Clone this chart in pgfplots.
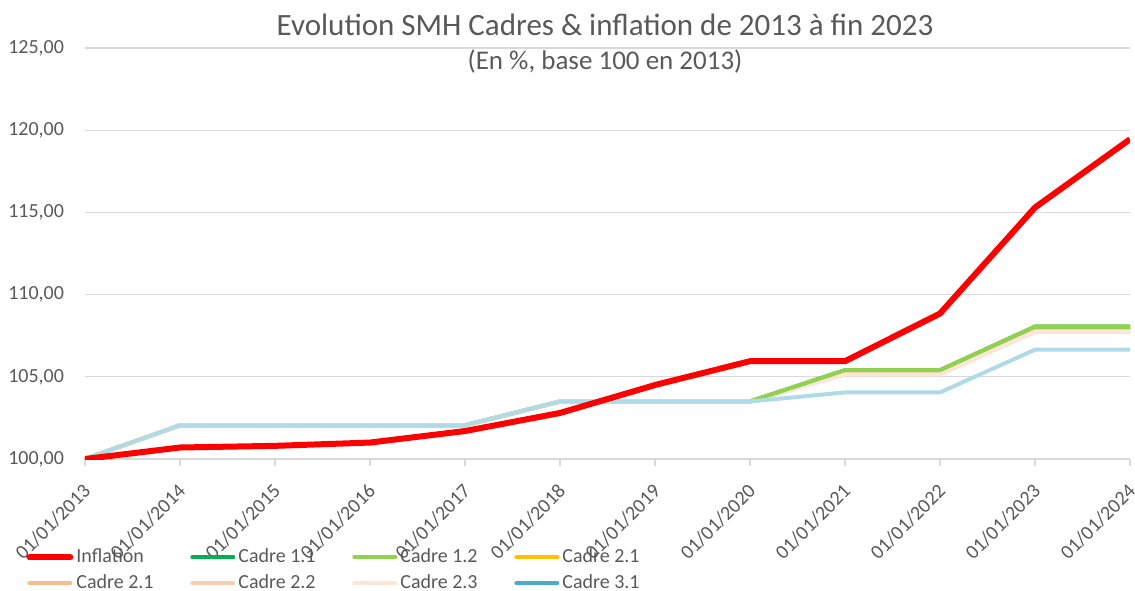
\documentclass[border=0pt]{standalone}
\usepackage{fontspec}
\setmainfont{Carlito}
\usepackage{pgfplots}
\pgfplotsset{compat=1.18}
\definecolor{txt}{RGB}{89,89,89}
\definecolor{gridc}{RGB}{217,217,217}
\definecolor{infl}{RGB}{255,0,0}
\definecolor{cA}{RGB}{0,176,80}
\definecolor{cB}{RGB}{146,208,80}
\definecolor{cC}{RGB}{255,192,0}
\definecolor{cD}{RGB}{248,190,140}
\definecolor{cE}{RGB}{248,206,176}
\definecolor{cF}{RGB}{252,230,216}
\definecolor{cG}{RGB}{75,172,198}
\definecolor{cGl}{RGB}{176,219,230}
\newcommand{\legtxt}[1]{\makebox[55pt][l]{#1}}
\begin{document}
\begin{tikzpicture}[x=1pt,y=1pt]
\path[use as bounding box] (0,0) rectangle (567.5,295);
\node[txt, font=\fontsize{15.5}{17}\selectfont] at (302.5,282.5) {Evolution SMH Cadres \& inflation de 2013 à fin 2023};
\node[txt, font=\fontsize{13.5}{15}\selectfont] at (302.5,264) {(En \%, base 100 en 2013)};
\begin{axis}[
  at={(42.5pt,65.5pt)}, anchor=south west,
  scale only axis, width=522.5pt, height=205.5pt,
  xmin=0, xmax=11, ymin=100, ymax=125,
  xtick={0,...,11},
  xticklabels={01/01/2013,01/01/2014,01/01/2015,01/01/2016,01/01/2017,01/01/2018,01/01/2019,01/01/2020,01/01/2021,01/01/2022,01/01/2023,01/01/2024},
  ytick={100,105,...,125},
  axis x line*=bottom, axis y line*=left,
  x axis line style={draw=gridc, line width=0.6pt},
  y axis line style={draw=none},
  ymajorgrids, grid style={draw=gridc, line width=0.6pt},
  tick align=outside, major tick length=3.5pt,
  xtick style={draw=gridc, line width=0.6pt},
  ytick style={draw=none},
  tick label style={txt},
  xticklabel style={font=\fontsize{10}{12}\selectfont, xshift=3.5pt, yshift=-8.5pt, rotate=45, anchor=east},
  yticklabel style={font=\fontsize{10}{12}\selectfont, anchor=east, xshift=-3.5pt},
  yticklabel={\pgfmathprintnumber[fixed, fixed zerofill, precision=2, use comma, 1000 sep={}, assume math mode=true]{\tick}},
  legend columns=4,
  legend cell align=left,
  legend style={at={(-0.0565,-0.208)}, anchor=north west, draw=none, fill=none,
    font=\fontsize{10}{12}\selectfont, text=txt, inner sep=0pt,
    row sep=0.5pt,
    /tikz/every odd column/.append style={column sep=-0.5pt}},
  legend image code/.code={\draw[#1] (0pt,0pt) -- (20.5pt,0pt);},
]
\addlegendimage{infl, line width=3pt, line cap=round}
\addlegendentry{\legtxt{Inflation}}
\addlegendimage{cA, line width=2pt, line cap=round}
\addlegendentry{\legtxt{Cadre 1.1}}
\addlegendimage{cB, line width=2pt, line cap=round}
\addlegendentry{\legtxt{Cadre 1.2}}
\addlegendimage{cC, line width=2pt, line cap=round}
\addlegendentry{\legtxt{Cadre 2.1}}
\addlegendimage{cD, line width=2pt, line cap=round}
\addlegendentry{\legtxt{Cadre 2.1}}
\addlegendimage{cE, line width=2pt, line cap=round}
\addlegendentry{\legtxt{Cadre 2.2}}
\addlegendimage{cF, line width=2pt, line cap=round}
\addlegendentry{\legtxt{Cadre 2.3}}
\addlegendimage{cG, line width=2pt, line cap=round}
\addlegendentry{\legtxt{Cadre 3.1}}
% Cadre 1.1
\addplot[forget plot, cA, line width=2pt] coordinates {(0,100) (1,102.05) (2,102.05) (3,102.05) (4,102.05) (5,103.5) (6,103.5) (7,103.5) (8,105.4) (9,105.4) (10,108.05) (11,108.05)};
% Cadre 1.2
\addplot[forget plot, cB, line width=2pt] coordinates {(0,100) (1,102.05) (2,102.05) (3,102.05) (4,102.05) (5,103.5) (6,103.5) (7,103.5) (8,105.4) (9,105.4) (10,108.05) (11,108.05)};
% Cadre 2.1
\addplot[forget plot, cC, line width=2pt] coordinates {(0,100) (1,102.05) (2,102.05) (3,102.05) (4,102.05) (5,103.5) (6,103.5) (7,103.5) (8,105.2) (9,105.2) (10,107.8) (11,107.8)};
% Cadre 2.1 (bis)
\addplot[forget plot, cD, line width=2pt] coordinates {(0,100) (1,102.05) (2,102.05) (3,102.05) (4,102.05) (5,103.5) (6,103.5) (7,103.5) (8,105.2) (9,105.2) (10,107.8) (11,107.8)};
% Cadre 2.2
\addplot[forget plot, cE, line width=2pt] coordinates {(0,100) (1,102.05) (2,102.05) (3,102.05) (4,102.05) (5,103.5) (6,103.5) (7,103.5) (8,105.15) (9,105.15) (10,107.75) (11,107.75)};
% Cadre 2.3
\addplot[forget plot, cF, line width=2pt] coordinates {(0,100) (1,102.05) (2,102.05) (3,102.05) (4,102.05) (5,103.5) (6,103.5) (7,103.5) (8,105.15) (9,105.15) (10,107.75) (11,107.75)};
% Cadre 1.2 visible on top after 2020
\addplot[forget plot, cB, line width=2pt] coordinates {(7,103.5) (8,105.4) (9,105.4) (10,108.05) (11,108.05)};
% Cadre 3.1
\addplot[forget plot, cGl, line width=2pt] coordinates {(0,100) (1,102.05) (2,102.05) (3,102.05) (4,102.05) (5,103.5) (6,103.5) (7,103.5) (8,104.05) (9,104.05) (10,106.65) (11,106.65)};
% Inflation
\addplot[forget plot, infl, line width=3pt] coordinates {(0,100) (1,100.7) (2,100.8) (3,101.0) (4,101.7) (5,102.8) (6,104.5) (7,105.95) (8,105.95) (9,108.85) (10,115.3) (11,119.45)};
\end{axis}
\end{tikzpicture}
\end{document}
